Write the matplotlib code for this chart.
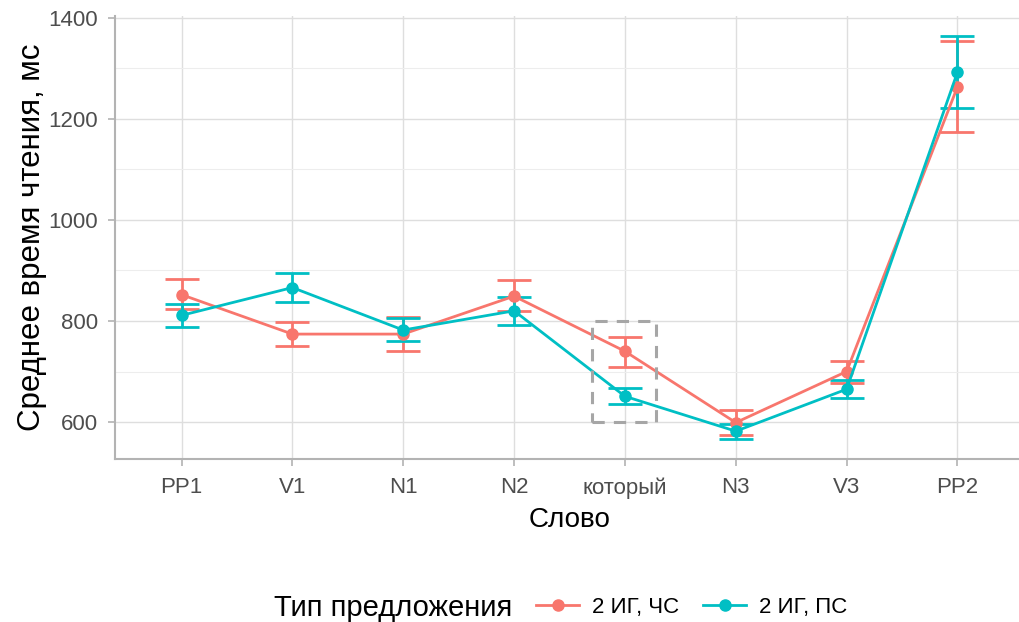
import numpy as np
import matplotlib
matplotlib.use("Agg")
import matplotlib.pyplot as plt
from matplotlib.lines import Line2D
from matplotlib.patches import Rectangle
from matplotlib.ticker import MultipleLocator

plt.rcParams['font.family'] = ['Liberation Sans', 'DejaVu Sans']

# Mean reading times per word region with error bar bounds
words = ['PP1', 'V1', 'N1', 'N2', 'который', 'N3', 'V3', 'PP2']
groups = ['2 ИГ, ЧС', '2 ИГ, ПС']
colors = ['#F8766D', '#00BFC4']

mean_chs = [852, 774, 774, 849, 740, 599, 700, 1263]
low_chs = [823, 750, 741, 820, 708, 574, 678, 1173]
high_chs = [882, 798, 807, 880, 769, 624, 721, 1354]

mean_ps = [811, 866, 782, 820, 651, 582, 665, 1292]
low_ps = [789, 838, 760, 792, 636, 566, 648, 1221]
high_ps = [834, 894, 806, 848, 667, 596, 684, 1363]

means = [mean_chs, mean_ps]
lows = [low_chs, low_ps]
highs = [high_chs, high_ps]

fig = plt.figure(figsize=(10.19, 6.22), dpi=100)
ax = fig.add_axes([115 / 1019, 163 / 622, 909 / 1019, 443 / 622])

x = np.arange(len(words))
for m, lo, hi, c in zip(means, lows, highs, colors):
    m = np.array(m)
    yerr = [m - np.array(lo), np.array(hi) - m]
    ax.errorbar(x, m, yerr=yerr, color=c, lw=2.0, marker='o', ms=8,
                capsize=12, capthick=2.0, elinewidth=2.0, zorder=3)

# highlight the relative pronoun region
ax.add_patch(Rectangle((4 - 0.3, 600), 0.58, 200, fill=False,
                       edgecolor='#a6a6a6', lw=2.2, ls=(0, (4, 3)), zorder=4))

ax.set_xlim(-0.6, 7.6)
ax.set_ylim(527, 1403)
ax.set_xticks(x)
ax.set_xticklabels(words)
ax.yaxis.set_major_locator(MultipleLocator(200))
ax.yaxis.set_minor_locator(MultipleLocator(100))

ax.grid(True, which='major', color='#dedede', lw=1.0)
ax.grid(True, which='minor', axis='y', color='#ededed', lw=0.8)
ax.set_axisbelow(True)

for side in ['top', 'right']:
    ax.spines[side].set_visible(False)
for side in ['left', 'bottom']:
    ax.spines[side].set_color('#b3b3b3')
    ax.spines[side].set_linewidth(1.5)

ax.tick_params(axis='both', which='major', colors='#b3b3b3', length=5,
               width=1.2, labelcolor='#4d4d4d', labelsize=16)
ax.tick_params(axis='x', which='major', pad=8)
ax.tick_params(axis='y', which='major', pad=7)
ax.tick_params(axis='y', which='minor', length=0)

ax.set_xlabel('Слово', fontsize=20, labelpad=6)
ax.set_ylabel('Среднее время чтения, мс', fontsize=22.5)
ax.yaxis.set_label_coords(-0.091, 0.5)
ax.yaxis.label.set_va('center')

# legend along the bottom
fig.text(274 / 1019, 14 / 622, 'Тип предложения', fontsize=21,
         ha='left', va='center')
handles = [Line2D([], [], color=c, lw=2.0, marker='o', ms=8) for c in colors]
fig.legend(handles, groups, ncol=2, loc='center left',
           bbox_to_anchor=(516 / 1019, 15 / 622), frameon=False,
           fontsize=16, handlelength=1.95, columnspacing=1.1, handletextpad=0.55)

fig.savefig('out.png', dpi=100, facecolor='white')
